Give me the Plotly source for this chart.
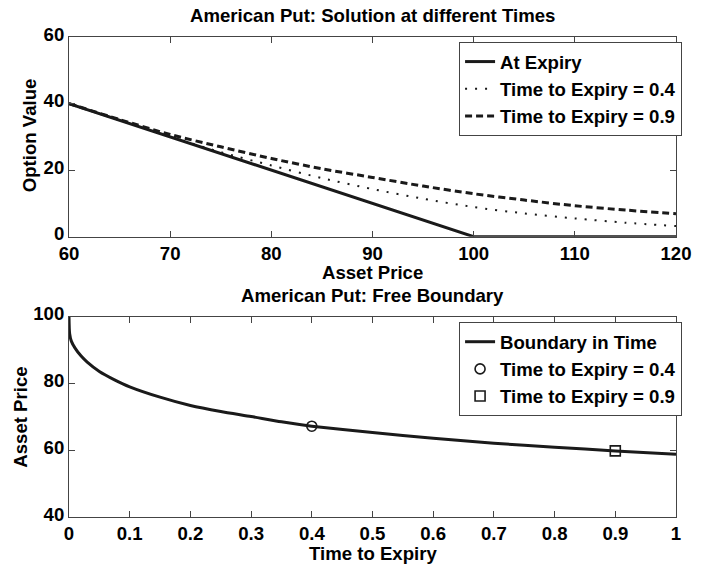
import plotly.graph_objects as go

# ---- Top panel: option value against asset price ----
asset_price = [60, 65, 70, 75, 80, 85, 90, 95, 100, 105, 110, 115, 120]
value_at_expiry = [40, 35, 30, 25, 20, 15, 10, 5, 0, 0, 0, 0, 0]
value_t04 = [40.0, 35.0, 30.1, 25.4, 21.4, 17.6, 14.3, 11.4, 8.9, 7.0, 5.5, 4.2, 3.2]
value_t09 = [40.0, 35.2, 30.7, 27.0, 23.5, 20.4, 17.8, 15.2, 12.9, 11.0, 9.3, 8.0, 6.9]

# ---- Bottom panel: free boundary against time to expiry ----
time_to_expiry = [0.0, 0.001, 0.004, 0.01, 0.02, 0.03, 0.05, 0.075, 0.1, 0.15,
                  0.2, 0.25, 0.3, 0.35, 0.4, 0.5, 0.6, 0.7, 0.8, 0.9, 1.0]
boundary = [100.0, 95.0, 92.6, 90.6, 88.2, 86.4, 83.6, 81.1, 79.0, 75.9,
            73.4, 71.6, 70.1, 68.5, 67.2, 65.3, 63.6, 62.1, 60.9, 59.8, 58.8]
marker_times = [0.4, 0.9]
marker_prices = [67.2, 59.8]

top_xticks = [60, 70, 80, 90, 100, 110, 120]
top_yticks = [0, 20, 40, 60]
bot_xticks = [0, 0.1, 0.2, 0.3, 0.4, 0.5, 0.6, 0.7, 0.8, 0.9, 1]
bot_xticklabels = ["0", "0.1", "0.2", "0.3", "0.4", "0.5", "0.6", "0.7", "0.8", "0.9", "1"]
bot_yticks = [40, 60, 80, 100]

FONT = "Liberation Sans, Arial, Helvetica, sans-serif"
FS = 18.6
INK = "#1a1a1a"
AXIS = "#444444"

fig = go.Figure()

fig.add_trace(go.Scatter(x=asset_price, y=value_at_expiry, mode="lines",
                         name="At Expiry", line=dict(color=INK, width=3),
                         xaxis="x", yaxis="y", legend="legend"))
fig.add_trace(go.Scatter(x=asset_price, y=value_t04, mode="lines",
                         name="Time to Expiry = 0.4",
                         line=dict(color=INK, width=2, dash="2px,8px", shape="spline", smoothing=0.8),
                         xaxis="x", yaxis="y", legend="legend"))
fig.add_trace(go.Scatter(x=asset_price, y=value_t09, mode="lines",
                         name="Time to Expiry = 0.9",
                         line=dict(color=INK, width=3, dash="7px,4px", shape="spline", smoothing=0.8),
                         xaxis="x", yaxis="y", legend="legend"))

fig.add_trace(go.Scatter(x=time_to_expiry, y=boundary, mode="lines",
                         name="Boundary in Time",
                         line=dict(color=INK, width=3, shape="spline", smoothing=0.6),
                         xaxis="x2", yaxis="y2", legend="legend2"))
fig.add_trace(go.Scatter(x=[marker_times[0]], y=[marker_prices[0]], mode="markers",
                         name="Time to Expiry = 0.4",
                         marker=dict(symbol="circle-open", size=10, color=INK, line=dict(width=1.6, color=INK)),
                         xaxis="x2", yaxis="y2", legend="legend2"))
fig.add_trace(go.Scatter(x=[marker_times[1]], y=[marker_prices[1]], mode="markers",
                         name="Time to Expiry = 0.9",
                         marker=dict(symbol="square-open", size=10, color=INK, line=dict(width=1.6, color=INK)),
                         xaxis="x2", yaxis="y2", legend="legend2"))

axis_common = dict(showline=True, linecolor=AXIS, linewidth=1, mirror="ticks",
                   ticks="inside", ticklen=6, tickcolor=AXIS, tickwidth=1,
                   showgrid=False, zeroline=False,
                   tickfont=dict(family=FONT, size=FS, color="black", weight="bold"))

legend_common = dict(font=dict(family=FONT, size=FS, color="black", weight="bold"),
                     bgcolor="white", bordercolor="#444444", borderwidth=1,
                     xanchor="right", yanchor="top", tracegroupgap=0,
                     itemwidth=30)

fig.update_layout(
    width=704, height=566,
    margin=dict(l=69, r=15, t=37, b=49),
    paper_bgcolor="white", plot_bgcolor="white",
    font=dict(family=FONT, size=FS, color="black", weight="bold"),
    xaxis=dict(domain=[0, 1], range=[60, 120], tickvals=top_xticks, anchor="y", **axis_common),
    yaxis=dict(domain=[0.584, 1.0], range=[0, 60], tickvals=top_yticks, anchor="x",
               ticklabelshift=-3, **axis_common),
    xaxis2=dict(domain=[0, 1], range=[0, 1], tickvals=bot_xticks, ticktext=bot_xticklabels,
                anchor="y2", **axis_common),
    yaxis2=dict(domain=[0, 0.4173], range=[40, 100], tickvals=bot_yticks, anchor="x2",
                ticklabelshift=-3, **axis_common),
    legend=dict(x=1.01, y=0.9896, **legend_common),
    legend2=dict(x=1.01, y=0.406, **legend_common),
    showlegend=True,
)

def label(text, x, y, angle=0):
    fig.add_annotation(text=text, x=x, y=y, xref="paper", yref="paper",
                       xanchor="center", yanchor="middle", showarrow=False,
                       textangle=angle,
                       font=dict(family=FONT, size=FS, color="black", weight="bold"))

label("American Put: Solution at different Times", 0.5, 1.0458)
label("Asset Price", 0.5, 0.5104)
label("Option Value", -0.0645, 0.795, -90)
label("American Put: Free Boundary", 0.5, 0.4625)
label("Time to Expiry", 0.5, -0.076)
label("Asset Price", -0.079, 0.207, -90)

fig.write_html("out.html")
